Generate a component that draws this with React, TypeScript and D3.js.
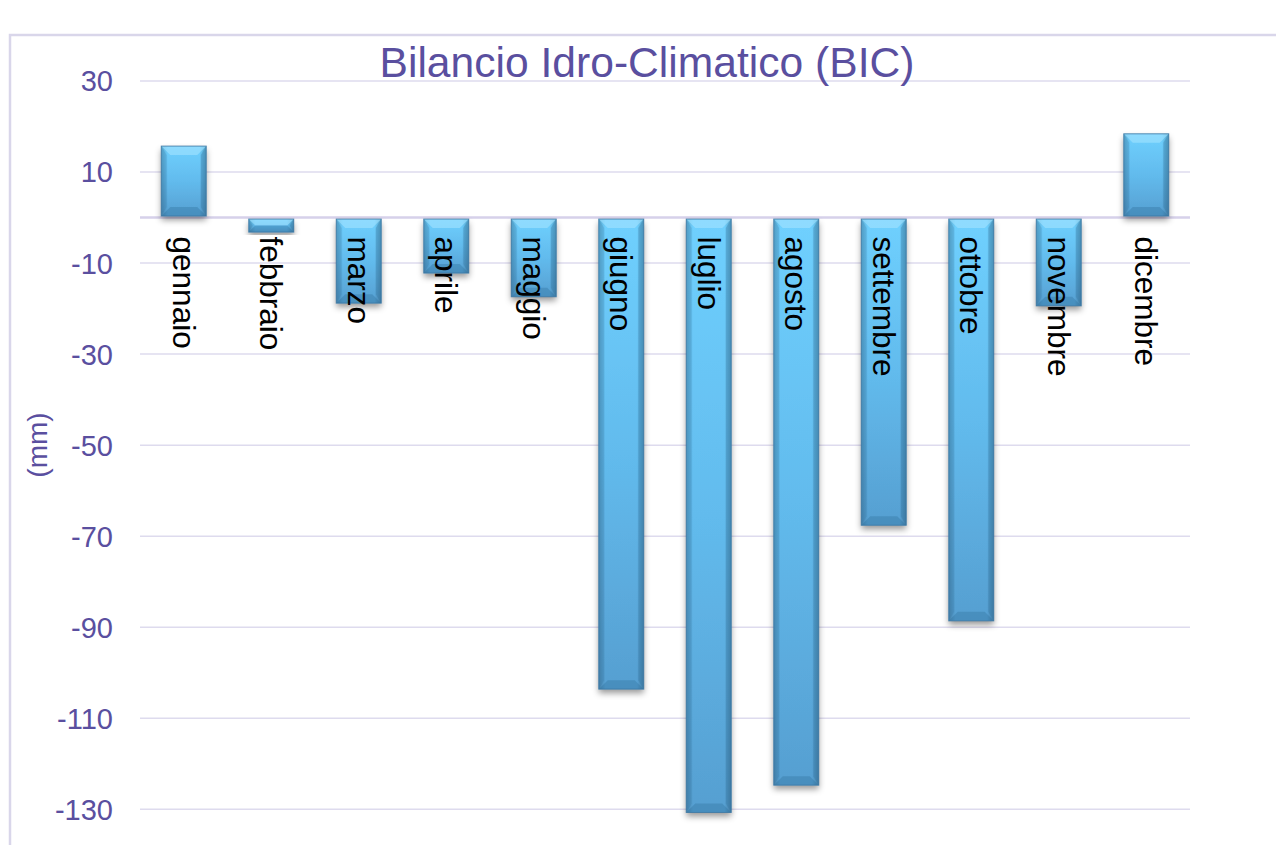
import React from "react";
import * as d3 from "d3";

const months = [
  "gennaio", "febbraio", "marzo", "aprile", "maggio", "giugno",
  "luglio", "agosto", "settembre", "ottobre", "novembre", "dicembre",
];
const bicValues = [15.7, -3.2, -18.8, -12.2, -17.4, -103.6, -130.7, -124.7, -67.6, -88.6, -19.4, 18.4];
const yTicks = [30, 10, -10, -30, -50, -70, -90, -110, -130];
const titleText = "Bilancio Idro-Climatico (BIC)";
const yAxisLabel = "(mm)";

const W = 1276;
const H = 845;
const FONT = "'Liberation Sans', Arial, Helvetica, sans-serif";
const PURPLE = "#5a4f9f";
const GRID = "#dedbee";

export default function App() {
  const x = d3.scaleBand<string>().domain(months).range([140, 1190]).padding(0);
  const y = d3.scaleLinear().domain([-130, 30]).range([809.3, 81]);
  const y0 = y(0);
  const bw = x.bandwidth() * 0.514;
  const bev = 9;

  return (
    <svg
      width={W}
      height={H}
      style={{ position: "absolute", left: 0, top: 0, background: "#fff" }}
    >
      <defs>
        <linearGradient id="barV" x1="0" y1="0" x2="0" y2="1">
          <stop offset="0" stopColor="#6fd0fe" />
          <stop offset="0.5" stopColor="#62bbed" />
          <stop offset="1" stopColor="#569fd1" />
        </linearGradient>
        <linearGradient id="barH" x1="0" y1="0" x2="1" y2="0">
          <stop offset="0" stopColor="#000" stopOpacity="0.18" />
          <stop offset="0.15" stopColor="#000" stopOpacity="0.0" />
          <stop offset="0.85" stopColor="#000" stopOpacity="0.0" />
          <stop offset="1" stopColor="#000" stopOpacity="0.22" />
        </linearGradient>
        <filter id="shadow" x="-30%" y="-10%" width="160%" height="130%">
          <feDropShadow dx="0" dy="4" stdDeviation="3" floodColor="#000" floodOpacity="0.4" />
        </filter>
      </defs>

      {/* outer frame */}
      <rect x={10} y={35} width={W} height={H} fill="none" stroke="#d9d6ea" strokeWidth={2.5} />

      {/* gridlines */}
      {yTicks.map((t) => (
        <line
          key={"g" + t}
          x1={140}
          x2={1190}
          y1={y(t)}
          y2={y(t)}
          stroke={GRID}
          strokeWidth={1.5}
        />
      ))}
      <line x1={140} x2={1190} y1={y0} y2={y0} stroke="#d6d1ea" strokeWidth={2.5} />

      {/* tick labels */}
      {yTicks.map((t) => (
        <text
          key={"t" + t}
          x={113}
          y={y(t)}
          dy="0.36em"
          textAnchor="end"
          fontFamily={FONT}
          fontSize={29}
          fill={PURPLE}
        >
          {t}
        </text>
      ))}

      {/* y axis label */}
      <text
        transform={`translate(37,445) rotate(-90)`}
        textAnchor="middle"
        dominantBaseline="central"
        fontFamily={FONT}
        fontSize={28}
        fill={PURPLE}
      >
        {yAxisLabel}
      </text>

      {/* title */}
      <text
        x={647}
        y={77}
        textAnchor="middle"
        fontFamily={FONT}
        fontSize={43}
        fill={PURPLE}
        textLength={535}
        lengthAdjust="spacingAndGlyphs"
      >
        {titleText}
      </text>

      {/* bars */}
      {months.map((m, i) => {
        const v = bicValues[i];
        const cx = (x(m) as number) + x.bandwidth() / 2;
        const x0 = cx - bw / 2;
        const x1 = cx + bw / 2;
        const yTop = v >= 0 ? y(v) : y0 + 1.5;
        const yBot = v >= 0 ? y0 - 1.5 : y(v);
        const h = yBot - yTop;
        const b = Math.min(bev, h / 2);
        return (
          <g key={m}>
            <rect
              x={x0}
              y={yTop}
              width={bw}
              height={h}
              fill="url(#barV)"
              filter="url(#shadow)"
            />
            <rect x={x0} y={yTop} width={bw} height={h} fill="url(#barH)" />
            <polygon
              points={`${x0},${yTop} ${x1},${yTop} ${x1 - b},${yTop + b} ${x0 + b},${yTop + b}`}
              fill="#a3e3ff"
              opacity={0.6}
            />
            <polygon
              points={`${x0},${yBot} ${x1},${yBot} ${x1 - b},${yBot - b} ${x0 + b},${yBot - b}`}
              fill="#2f6f9c"
              opacity={0.35}
            />
            <polygon
              points={`${x0},${yTop} ${x0 + b * 0.6},${yTop + b} ${x0 + b * 0.6},${yBot - b} ${x0},${yBot}`}
              fill="#2f6f9c"
              opacity={0.2}
            />
            <polygon
              points={`${x1},${yTop} ${x1 - b * 0.6},${yTop + b} ${x1 - b * 0.6},${yBot - b} ${x1},${yBot}`}
              fill="#2f6f9c"
              opacity={0.3}
            />
            <rect
              x={x0}
              y={yTop}
              width={bw}
              height={h}
              fill="none"
              stroke="#3b76a0"
              strokeWidth={1}
              strokeOpacity={0.8}
            />
          </g>
        );
      })}

      {/* category labels */}
      {months.map((m) => {
        const cx = (x(m) as number) + x.bandwidth() / 2;
        return (
          <text
            key={"l" + m}
            transform={`translate(${cx},${y0 + 19}) rotate(90)`}
            textAnchor="start"
            dominantBaseline="central"
            fontFamily={FONT}
            fontSize={31.5}
            fill="#000"
          >
            {m}
          </text>
        );
      })}
    </svg>
  );
}
